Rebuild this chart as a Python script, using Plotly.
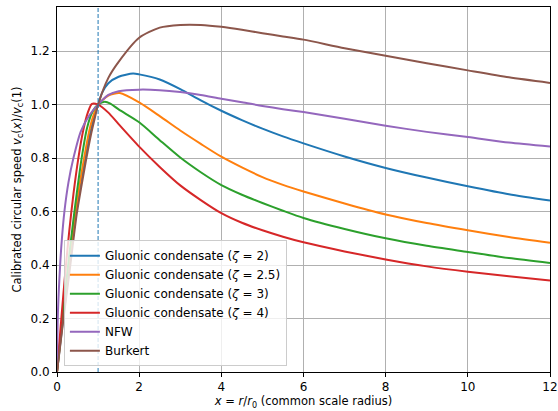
import plotly.graph_objects as go

# ---- data ----
names = ["Gluonic condensate (<i>ζ</i> = 2)", "Gluonic condensate (<i>ζ</i> = 2.5)",
         "Gluonic condensate (<i>ζ</i> = 3)", "Gluonic condensate (<i>ζ</i> = 4)",
         "NFW", "Burkert"]
colors = ["#1f77b4", "#ff7f0e", "#2ca02c", "#d62728", "#9467bd", "#8c564b"]

blue_x = [0, 0.15, 0.3, 0.46, 0.57, 0.69, 0.81, 0.91, 1.0, 1.1, 1.25, 1.5, 1.85, 2, 2.5, 3, 3.5, 4, 4.5, 5, 5.5, 6, 7, 8, 9, 10, 11, 12]
blue_y = [0, 0.2, 0.39, 0.59, 0.705, 0.8, 0.895, 0.955, 1.0, 1.045, 1.080, 1.104, 1.116, 1.113, 1.094, 1.058, 1.016, 0.977, 0.942, 0.910, 0.881, 0.855, 0.806, 0.763, 0.727, 0.695, 0.665, 0.641]

orange_x = [0, 0.15, 0.3, 0.44, 0.55, 0.66, 0.79, 0.9, 1.0, 1.25, 1.53, 2, 2.5, 3, 3.5, 4, 4.5, 5, 5.5, 6, 7, 8, 9, 10, 11, 12]
orange_y = [0, 0.21, 0.41, 0.58, 0.7, 0.8, 0.905, 0.965, 1.0, 1.034, 1.043, 1.008, 0.957, 0.903, 0.853, 0.805, 0.765, 0.729, 0.700, 0.675, 0.630, 0.589, 0.557, 0.530, 0.505, 0.483]

green_x = [0, 0.15, 0.3, 0.4, 0.5, 0.6, 0.73, 0.87, 1.0, 1.16, 1.3, 1.5, 2, 2.5, 3, 3.5, 4, 4.5, 5, 5.5, 6, 7, 8, 9, 10, 11, 12]
green_y = [0, 0.23, 0.44, 0.57, 0.69, 0.8, 0.912, 0.975, 1.0, 1.011, 1.004, 0.982, 0.934, 0.867, 0.802, 0.747, 0.699, 0.663, 0.632, 0.603, 0.576, 0.535, 0.500, 0.472, 0.449, 0.426, 0.408]

red_x = [0, 0.1, 0.2, 0.3, 0.4, 0.52, 0.64, 0.75, 0.85, 1.0, 1.25, 1.5, 2, 2.5, 3, 3.5, 4, 4.5, 5, 5.5, 6, 7, 8, 9, 10, 11, 12]
red_y = [0, 0.19, 0.37, 0.53, 0.665, 0.8, 0.905, 0.97, 1.003, 1.0, 0.97, 0.927, 0.843, 0.767, 0.698, 0.643, 0.594, 0.558, 0.530, 0.506, 0.485, 0.451, 0.421, 0.395, 0.375, 0.358, 0.342]

nfw_x = [0, 0.02, 0.08, 0.12, 0.18, 0.28, 0.40, 0.58, 0.8, 1.0, 1.25, 1.5, 2, 2.5, 3, 3.5, 4, 4.5, 5, 5.5, 6, 7, 8, 9, 10, 11, 12]
nfw_y = [0, 0.21, 0.41, 0.5, 0.6, 0.71, 0.8, 0.90, 0.963, 1.0, 1.036, 1.050, 1.056, 1.054, 1.047, 1.036, 1.022, 1.009, 0.995, 0.983, 0.972, 0.947, 0.921, 0.898, 0.879, 0.858, 0.843]

burkert_x = [0, 0.15, 0.3, 0.48, 0.6, 0.71, 0.83, 0.92, 1.0, 1.25, 1.5, 2, 2.5, 3, 3.5, 4, 4.5, 5, 5.5, 6, 7, 8, 9, 10, 11, 12]
burkert_y = [0, 0.19, 0.37, 0.59, 0.70, 0.795, 0.89, 0.95, 1.0, 1.10, 1.16, 1.250, 1.288, 1.298, 1.298, 1.291, 1.280, 1.267, 1.255, 1.243, 1.211, 1.183, 1.155, 1.128, 1.102, 1.081]

ref_x = [1.0]
x_ticks = [0, 2, 4, 6, 8, 10, 12]
y_ticks = [0.0, 0.2, 0.4, 0.6, 0.8, 1.0, 1.2]

series = [(blue_x, blue_y), (orange_x, orange_y), (green_x, green_y),
          (red_x, red_y), (nfw_x, nfw_y), (burkert_x, burkert_y)]

FONT = "DejaVu Sans"
fig = go.Figure()
for (xs, ys), nm, c in zip(series, names, colors):
    fig.add_trace(go.Scatter(x=xs, y=ys, mode="lines", name=nm,
                             line=dict(color=c, width=2, shape="spline", smoothing=0.7)))

for rx in ref_x:
    fig.add_shape(type="line", xref="x", yref="paper", x0=rx, x1=rx, y0=0, y1=1,
                  line_color="#1f77b4", line_width=1, line_dash="4px,2px", layer="above")

axis_common = dict(showline=True, linecolor="black", linewidth=1, mirror=True,
                   ticks="outside", ticklen=4, tickwidth=1, tickcolor="black",
                   showgrid=True, gridcolor="#b0b0b0", gridwidth=1, zeroline=False,
                   automargin=False,
                   tickfont=dict(family=FONT, size=12, color="black"))

fig.update_layout(
    width=558, height=411,
    margin=dict(l=57, r=8, t=7, b=39),
    paper_bgcolor="white", plot_bgcolor="white",
    font=dict(family=FONT, size=12, color="black"),
    xaxis=dict(range=[0, 12], tickvals=x_ticks, ticktext=[str(v) for v in x_ticks],
               title=dict(text="<i>x</i> = <i>r</i>/<i>r</i><sub>0</sub> (common scale radius)",
                          font=dict(family=FONT, size=11.5), standoff=2),
               **axis_common),
    yaxis=dict(range=[0, 1.365], tickvals=y_ticks, ticktext=[f"{v:.1f}" for v in y_ticks],
               title=dict(text="Calibrated circular speed <i>v</i><sub>c</sub>(<i>x</i>)/<i>v</i><sub>c</sub>(1)",
                          font=dict(family=FONT, size=11.5), standoff=6),
               **axis_common),
    legend=dict(x=0.014, y=0.016, xanchor="left", yanchor="bottom",
                bgcolor="rgba(255,255,255,0.8)", bordercolor="#cccccc", borderwidth=1,
                font=dict(family=FONT, size=12), tracegroupgap=0),
    showlegend=True,
)

fig.write_html("out.html", config={"displayModeBar": False},
               post_script="document.body.style.margin='0';document.body.style.padding='0';")
